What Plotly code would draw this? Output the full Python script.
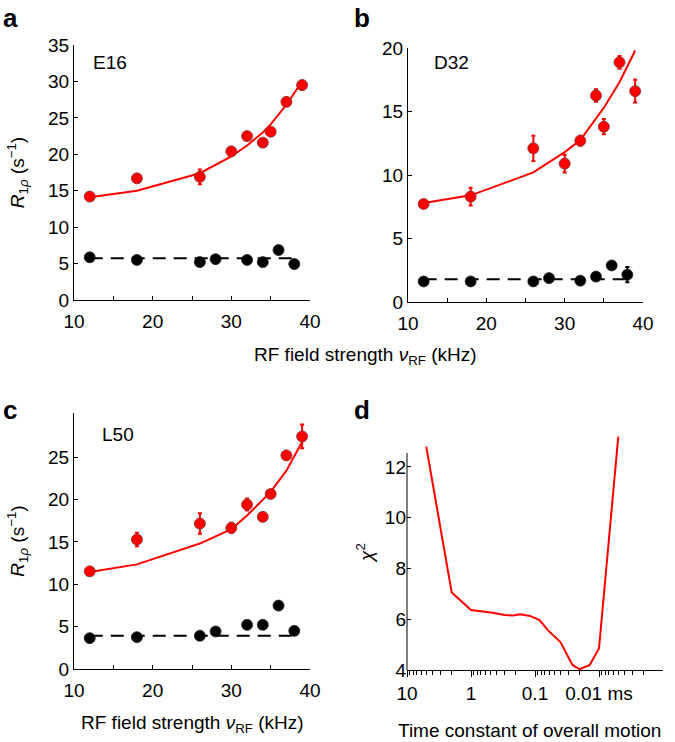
import plotly.graph_objects as go

# RF field strengths (kHz)
nu_red = [12, 18, 26, 30, 32, 34, 35, 37, 39]
nu_black = [12, 18, 26, 28, 32, 34, 36, 38]

# panel a: E16
a_red = [14.2, 16.7, 16.9, 20.4, 22.5, 21.6, 23.1, 27.2, 29.5]
a_red_err = [0.3, 0.4, 1.0, 0.4, 0.5, 0.4, 0.4, 0.5, 0.6]
a_red_fit = [14.1, 15.0, 17.4, 19.7, 21.2, 23.0, 24.1, 26.8, 30.0]
a_black = [5.86, 5.5, 5.2, 5.6, 5.5, 5.2, 6.86, 4.94]
a_black_err = [0.2, 0.2, 0.2, 0.2, 0.2, 0.2, 0.3, 0.2]
a_black_fit = 5.72

# panel b: D32
b_red = [7.72, 8.3, 12.1, 10.9, 12.7, 16.26, 13.8, 18.87, 16.6]
b_red_err = [0.3, 0.7, 1.0, 0.7, 0.4, 0.5, 0.6, 0.5, 0.9]
b_red_fit = [7.8, 8.4, 10.2, 11.8, 12.75, 14.45, 15.3, 17.3, 19.8]
b_black = [1.62, 1.62, 1.62, 1.88, 1.68, 2.0, 2.88, 2.15]
b_black_err = [0.15, 0.15, 0.15, 0.15, 0.15, 0.2, 0.2, 0.6]
b_black_fit = 1.8

# panel c: L50
c_red = [11.52, 15.28, 17.16, 16.65, 19.4, 17.95, 20.65, 25.2, 27.43]
c_red_err = [0.3, 0.8, 1.2, 0.6, 0.7, 0.4, 0.4, 0.5, 1.4]
c_red_fit = [11.44, 12.34, 14.8, 16.5, 18.1, 19.9, 20.9, 23.4, 26.8]
c_black = [3.64, 3.76, 3.92, 4.43, 5.21, 5.21, 7.48, 4.5]
c_black_err = [0.2, 0.2, 0.2, 0.2, 0.2, 0.2, 0.3, 0.2]
c_black_fit = 3.92

# panel d: chi^2 vs time constant (ms)
tau = [5.0, 2.0, 1.0, 0.46, 0.3, 0.22, 0.17, 0.12, 0.085, 0.063, 0.04, 0.026, 0.02, 0.014, 0.01, 0.005]
chi2 = [12.8, 7.05, 6.36, 6.26, 6.17, 6.15, 6.2, 6.13, 5.97, 5.57, 5.1, 4.2, 4.03, 4.2, 4.85, 13.2]
tau_ticks = [10, 1, 0.1, 0.01]
tau_labels = ["10", "1", "0.1", "0.01 ms"]

FONT = "Liberation Sans, Arial, Helvetica, sans-serif"
FS = 19
W, H = 675, 742


def dom_x(x0, x1):
    return [x0 / W, x1 / W]


def dom_y(top, bottom):
    return [(H - bottom) / H, (H - top) / H]


fig = go.Figure()


def add_panel(n, red, red_err, red_fit, black, black_err, black_fit):
    xa, ya = ("x", "y") if n == 1 else ("x%d" % n, "y%d" % n)
    fig.add_trace(go.Scatter(x=nu_red, y=red_fit, mode="lines", xaxis=xa, yaxis=ya,
                             line=dict(color="#ff0000", width=2), showlegend=False))
    fig.add_trace(go.Scatter(x=[min(nu_black), max(nu_black)], y=[black_fit, black_fit],
                             mode="lines", xaxis=xa, yaxis=ya,
                             line=dict(color="black", width=2, dash="13px,8px"), showlegend=False))
    fig.add_trace(go.Scatter(x=nu_black, y=black, mode="markers", xaxis=xa, yaxis=ya,
                             error_y=dict(type="data", array=black_err, color="black",
                                          thickness=2, width=2),
                             marker=dict(color="black", size=11,
                                         line=dict(color="#222222", width=0.8)),
                             showlegend=False))
    fig.add_trace(go.Scatter(x=nu_red, y=red, mode="markers", xaxis=xa, yaxis=ya,
                             error_y=dict(type="data", array=red_err, color="#ff0000",
                                          thickness=2, width=2),
                             marker=dict(color="#ff0000", size=11,
                                         line=dict(color="#7a3030", width=0.8)),
                             showlegend=False))


add_panel(1, a_red, a_red_err, a_red_fit, a_black, a_black_err, a_black_fit)
add_panel(2, b_red, b_red_err, b_red_fit, b_black, b_black_err, b_black_fit)
add_panel(3, c_red, c_red_err, c_red_fit, c_black, c_black_err, c_black_fit)

fig.add_trace(go.Scatter(x=tau, y=chi2, mode="lines", xaxis="x4", yaxis="y4",
                         line=dict(color="#ff0000", width=2), showlegend=False))

tickfont = dict(family=FONT, size=FS, color="black")
common = dict(showline=True, linecolor="black", linewidth=1, ticks="inside", ticklen=4,
              tickcolor="black", showgrid=False, zeroline=False, tickfont=tickfont,
              automargin=False)

xnu = dict(common, range=[10, 40], tickvals=[10, 20, 30, 40], ticklabelstandoff=4,
           minor=dict(tickvals=[15, 25, 35], ticks="inside", ticklen=4, tickcolor="black"))

ytitle = dict(text="<i>R</i><sub>1<i>ρ</i></sub> (s<sup>−1</sup>)",
              font=dict(family=FONT, size=FS, color="black"), standoff=18)

fig.update_layout(
    width=W, height=H, margin=dict(l=0, r=0, t=0, b=0),
    paper_bgcolor="white", plot_bgcolor="white",
    font=dict(family=FONT, size=FS, color="black"),
    xaxis=dict(xnu, domain=dom_x(74, 310), anchor="y"),
    yaxis=dict(common, domain=dom_y(45, 300), range=[0, 35], tickvals=list(range(0, 36, 5)),
               anchor="x", title=ytitle),
    xaxis2=dict(xnu, domain=dom_x(408, 643), anchor="y2"),
    yaxis2=dict(common, domain=dom_y(48, 302), range=[0, 20], tickvals=list(range(0, 21, 5)),
                anchor="x2"),
    xaxis3=dict(xnu, domain=dom_x(74, 310), anchor="y3"),
    yaxis3=dict(common, domain=dom_y(413, 669), range=[0, 30.2], tickvals=list(range(0, 26, 5)),
                anchor="x3", title=ytitle),
    xaxis4=dict(common, type="log", range=[1, -3], domain=dom_x(407, 663), anchor="y4",
                ticks="outside", ticklen=6, tickvals=tau_ticks, ticktext=tau_labels,
                minor=dict(ticks="outside", ticklen=4, tickcolor="black",
                           tickvals=[m * 10.0 ** e for e in (0, -1, -2, -3) for m in range(2, 10)])),
    yaxis4=dict(common, showline=False, range=[4, 13.3], domain=dom_y(434, 670), anchor="x4",
                tickvals=[4, 6, 8, 10, 12],
                title=dict(text="<i>χ</i><sup>2</sup>", font=dict(family=FONT, size=FS),
                           standoff=6)),
)

# y axis line of panel d stops below the curve ends
fig.add_shape(type="line", xref="x4 domain", yref="y4", x0=0, x1=0, y0=4, y1=12.55,
              line=dict(color="black", width=1))

for t, px, py in [("a", 1, 18), ("b", 352, 18), ("c", 1, 410), ("d", 352, 410)]:
    fig.add_annotation(text="<b>%s</b>" % t, x=px / W, y=1 - py / H, xref="paper", yref="paper",
                       xanchor="left", yanchor="middle", showarrow=False,
                       font=dict(family=FONT, size=26, color="black"))

xlab = "RF field strength <i>ν</i><sub>RF</sub> (kHz)"
texts = [("E16", 110, 63), ("D32", 452, 63), ("L50", 118, 435),
         (xlab, 365, 356), (xlab, 192, 724), ("Time constant of overall motion", 529, 730)]
for t, px, py in texts:
    fig.add_annotation(text=t, x=px / W, y=1 - py / H, xref="paper", yref="paper",
                       xanchor="center", yanchor="middle", showarrow=False,
                       font=dict(family=FONT, size=FS, color="black"))

fig.write_html("out.html", config={"displayModeBar": False},
               post_script="document.body.style.margin='0';")
